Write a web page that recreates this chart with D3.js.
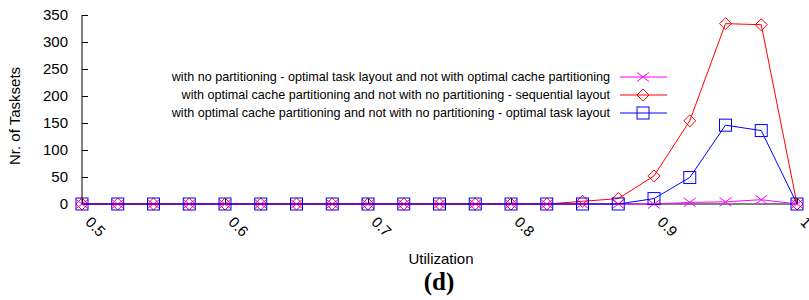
<!DOCTYPE html>
<html><head><meta charset="utf-8">
<script src="https://cdn.jsdelivr.net/npm/d3@7/dist/d3.min.js"></script>
<style>body{margin:0;background:#fff}svg{display:block}</style>
</head><body><svg id="c" width="809" height="300"></svg>
<script>
const utilization = [0.5,0.525,0.55,0.575,0.6,0.625,0.65,0.675,0.7,0.725,0.75,0.775,0.8,0.825,0.85,0.875,0.9,0.925,0.95,0.975,1.0];
const noPartOptimal = [0,0,0,0,0,0,0,0,0,0,0,0,0,0,0,0,0,3,4,8,0];
const cacheVsSequential = [0,0,0,0,0,0,0,0,0,0,0,0,0,0,5,10,52,154,334,332,0];
const cacheVsOptimal = [0,0,0,0,0,0,0,0,0,0,0,0,0,0,0,0,10,49,146,136,0];
const xTicks = [0.5,0.6,0.7,0.8,0.9,1];
const yTicks = [0,50,100,150,200,250,300,350];
const seriesNames = [
  "with no partitioning - optimal task layout and not with optimal cache partitioning",
  "with optimal cache partitioning and not with no partitioning - sequential layout",
  "with optimal cache partitioning and not with no partitioning - optimal task layout"
];

const svg = d3.select("#c");
const x = d3.scaleLinear().domain([0.5,1]).range([82,797]);
const y = d3.scaleLinear().domain([0,350]).range([204,15]);
const font = "Liberation Sans, Arial, sans-serif";

// axes
const ya = svg.append("g").attr("transform","translate(82,0)")
  .call(d3.axisLeft(y).tickValues(yTicks).tickSize(-6).tickPadding(14));
ya.select(".domain").remove();
ya.selectAll("text").attr("font-family",font).attr("font-size",15).attr("fill","#000");
svg.append("line").attr("x1",82).attr("x2",82).attr("y1",y(350)).attr("y2",y(0)).attr("stroke","#000");

const xa = svg.append("g").attr("transform","translate(0,204)")
  .call(d3.axisBottom(x).tickValues(xTicks).tickSize(-6).tickFormat(d=>d===1?"1":d3.format(".1f")(d)));
xa.select(".domain").remove();
xa.selectAll("text").attr("font-family",font).attr("font-size",15).attr("fill","#000")
  .attr("text-anchor","start").attr("transform","translate(2,19) rotate(45)").attr("y",0).attr("dy",0).attr("x",0);
svg.append("line").attr("x1",82).attr("x2",797).attr("y1",204).attr("y2",204).attr("stroke","#000");

// labels
svg.append("text").attr("transform","translate(20,116) rotate(-90)").attr("text-anchor","middle")
  .attr("font-family",font).attr("font-size",15).text("Nr. of Tasksets");
svg.append("text").attr("x",441).attr("y",264).attr("text-anchor","middle")
  .attr("font-family",font).attr("font-size",15).text("Utilization");
svg.append("text").attr("x",439).attr("y",290).attr("text-anchor","middle")
  .attr("font-family","Liberation Serif, Times New Roman, serif").attr("font-weight","bold").attr("font-size",25).text("(d)");

const colors = ["#ff00ff","#ff0000","#0000ff"];
const data = [noPartOptimal, cacheVsSequential, cacheVsOptimal];
const s = 6;
function marker(g, type, cx, cy, c){
  if(type===0){
    g.append("path").attr("d",`M${cx-s},${cy-s*0.75}L${cx+s},${cy+s*0.75}M${cx-s},${cy+s*0.75}L${cx+s},${cy-s*0.75}`).attr("stroke",c).attr("fill","none");
  } else if(type===1){
    g.append("path").attr("d",`M${cx},${cy-s}L${cx+s},${cy}L${cx},${cy+s}L${cx-s},${cy}Z`).attr("stroke",c).attr("fill","none");
  } else {
    g.append("rect").attr("x",cx-s).attr("y",cy-s).attr("width",2*s).attr("height",2*s).attr("stroke",c).attr("fill","none");
  }
}
const line = d3.line().x((d,i)=>x(utilization[i])).y(d=>y(d));
data.forEach((vals,k)=>{
  const g = svg.append("g");
  g.append("path").datum(vals).attr("d",line).attr("stroke",colors[k]).attr("fill","none").attr("stroke-width",1);
  vals.forEach((v,i)=>marker(g,k,x(utilization[i]),y(v),colors[k]));
});

// legend
seriesNames.forEach((n,k)=>{
  const ly = 77 + k*18;
  svg.append("text").attr("x",610).attr("y",ly).attr("dy","0.35em").attr("text-anchor","end")
    .attr("font-family",font).attr("font-size",12.6).text(n);
  const g = svg.append("g");
  g.append("line").attr("x1",620).attr("x2",667).attr("y1",ly).attr("y2",ly).attr("stroke",colors[k]);
  marker(g,k,643,ly,colors[k]);
});
</script></body></html>
